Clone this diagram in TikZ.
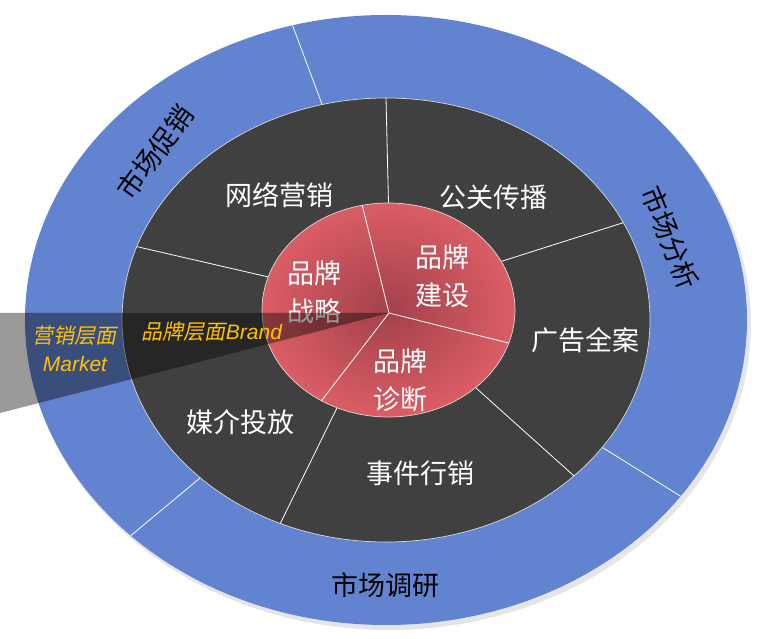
\documentclass[tikz,border=0pt]{standalone}
\usepackage{fontspec}
\usepackage{tikz}
\usetikzlibrary{calc}
\setmainfont{Liberation Sans}
\newfontfamily\cjk{Noto Sans CJK SC}
\newfontfamily\cjkit[FakeSlant=0.2]{Noto Sans CJK SC}
\definecolor{ringblue}{HTML}{6283D0}
\definecolor{ringdark}{HTML}{404040}
\definecolor{coredark}{HTML}{A3414A}
\definecolor{corelight}{HTML}{EA656D}
\definecolor{corerim}{HTML}{BD545C}
\definecolor{labelgold}{HTML}{FFC000}
\pgfdeclareradialshading{coreshade}{\pgfpoint{0bp}{0bp}}{color(0bp)=(coredark); color(32bp)=(corelight); color(46bp)=(corelight); color(50bp)=(corerim)}

\begin{document}
\begin{tikzpicture}[x=1pt,y=1pt,
  divider/.style={draw=white, line width=0.8pt},
  rim/.style={draw=black!15, line width=0.7pt},
  ringlabel/.style={font=\cjk\fontsize{27}{30}\selectfont, text=black},
  darklabel/.style={font=\cjk\fontsize{27}{30}\selectfont, text=white},
  corelabel/.style={font=\cjk\fontsize{27}{38}\selectfont, text=white, align=center},
  levellabel/.style={font=\fontsize{21}{28}\selectfont, text=labelgold, align=center}]
\useasboundingbox (-386,-319) rectangle (371,320);
\coordinate (o) at (0,0);
\coordinate (r) at (2.5,10);
\coordinate (c) at (3,7);
% outer ring
\fill[black!10] (3,-4) ellipse [x radius=362, y radius=306];
\fill[ringblue] (o) ellipse [x radius=361, y radius=305];
\coordinate (b1i) at (104:264 and 222);
\coordinate (b1o) at (105:361 and 305);
\coordinate (b2i) at (-35:264 and 222);
\coordinate (b2o) at (-35.3:361 and 305);
\coordinate (b3i) at (225.3:264 and 222);
\coordinate (b3o) at (225:361 and 305);
\draw[divider] (b1i) -- (b1o);
\draw[divider] (b2i) -- (b2o);
\draw[divider] (b3i) -- (b3o);
% middle ring
\filldraw[fill=ringdark, rim] (o) ellipse [x radius=264, y radius=222];
\coordinate (d1i) at ($(r)+(90:126.5 and 107)$);
\coordinate (d1o) at (90:264 and 222);
\coordinate (d2i) at ($(r)+(27:126.5 and 107)$);
\coordinate (d2o) at (26:264 and 222);
\coordinate (d3i) at ($(r)+(-46.5:126.5 and 107)$);
\coordinate (d3o) at (-44.6:264 and 222);
\coordinate (d4i) at ($(r)+(246:126.5 and 107)$);
\coordinate (d4o) at (246.4:264 and 222);
\coordinate (d5i) at ($(r)+(162:126.5 and 107)$);
\coordinate (d5o) at (160.7:264 and 222);
\draw[divider] (d1i) -- (d1o);
\draw[divider] (d2i) -- (d2o);
\draw[divider] (d3i) -- (d3o);
\draw[divider] (d4i) -- (d4o);
\draw[divider] (d5i) -- (d5o);
% core
\shade[shading=coreshade, rim] (r) ellipse [x radius=126.5, y radius=107];
\coordinate (r1) at ($(r)+(102:126.5 and 107)$);
\coordinate (r2) at ($(r)+(-18:126.5 and 107)$);
\coordinate (r3) at ($(r)+(238:126.5 and 107)$);
\draw[divider] (c) -- (r1);
\draw[divider] (c) -- (r2);
\draw[divider] (c) -- (r3);
% labels
\node[ringlabel, rotate=54] (promo) at (-231,168) {市场促销};
\node[ringlabel, rotate=-68] (analysis) at (284,82) {市场分析};
\node[ringlabel] (research) at (-1,-265) {市场调研};
\node[darklabel] (web) at (-106,125) {网络营销};
\node[darklabel] (pr) at (107,123) {公关传播};
\node[darklabel] (ads) at (199,-20) {广告全案};
\node[darklabel] (event) at (34,-153) {事件行销};
\node[darklabel] (media) at (-145,-102) {媒介投放};
\node[corelabel] (strategy) at (-71,28) {品牌\\战略};
\node[corelabel] (build) at (56,44) {品牌\\建设};
\node[corelabel] (diag) at (14,-60) {品牌\\诊断};
% level band
\coordinate (bt) at (-386,7);
\coordinate (bb) at (-386,-93);
\fill[black, opacity=0.4] (bt) -- (c) -- (bb) -- cycle;
\node[levellabel] (market) at (-311,-29) {{\cjkit 营销层面}\\{\itshape Market}};
\node[levellabel] (brand) at (-174,-12) {{\cjkit 品牌层面}{\itshape Brand}};
\end{tikzpicture}
\end{document}
